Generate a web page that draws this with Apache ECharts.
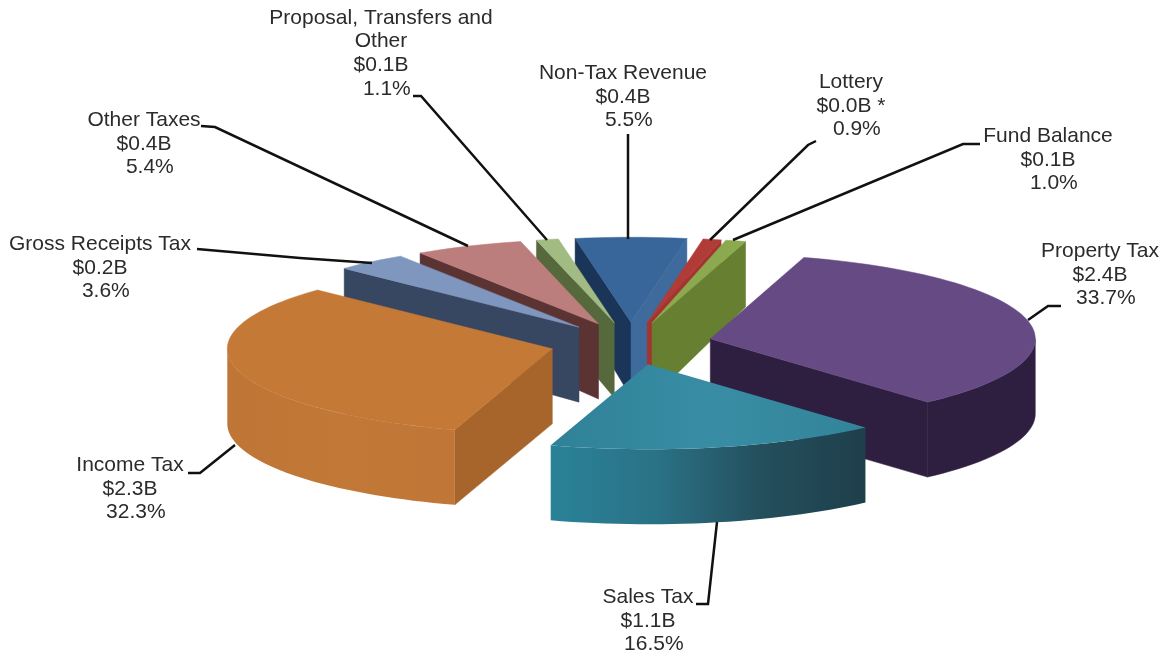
<!DOCTYPE html>
<html>
<head>
<meta charset="utf-8">
<title>Revenue</title>
<style>
  html, body { margin: 0; padding: 0; background: #fff; }
  #chart { width: 1167px; height: 656px; }
</style>
<script src="https://cdn.jsdelivr.net/npm/echarts@6/dist/echarts.min.js"></script>
</head>
<body>
<div id="chart"></div>
<script>
// clockwise from the top
const names = ['Non-Tax Revenue', 'Lottery', 'Fund Balance', 'Property Tax', 'Sales Tax', 'Income Tax',
  'Gross Receipts Tax', 'Other Taxes', 'Proposal, Transfers and\nOther'];
const shares = [5.5, 0.9, 1.0, 33.7, 16.5, 32.3, 3.6, 5.4, 1.1];
const amounts = ['$0.4B', '$0.0B *', '$0.1B', '$2.4B', '$1.1B', '$2.3B', '$0.2B', '$0.4B', '$0.1B'];

// [top, near wall, far wall]
const colors = [
  ['#39669A', '#3F6A9C', '#1A3557'],
  ['#B03B37', '#A5332F', '#A5332F'],
  ['#8BAA50', '#667F30', '#667F30'],
  ['#654A84', '#2E1F40', '#2E1F40'],
  ['#36899F', '#2A8199', '#2A8199'],
  ['#C47937', '#BE7534', '#A7652B'],
  ['#7F97BF', '#374761', '#374761'],
  ['#BC7D7D', '#5C3333', '#5C3333'],
  ['#A1BB82', '#56693D', '#56693D']
];

// label centre and the middle line's y
const labelPos = [[623, 97], [851, 106], [1048, 160], [1100, 275], [648, 621], [130, 489], [100, 268], [144, 144], [381, 53.5]];
const leaders = [
  [[628, 134], [628, 239]],
  [[816, 141], [808, 145], [710, 240]],
  [[980, 144], [963, 144], [733, 240]],
  [[1061, 306], [1048, 306], [1028, 320]],
  [[696, 604], [708, 604], [717, 522]],
  [[188, 473], [200, 473], [235, 445]],
  [[197, 249], [300, 258], [372, 263]],
  [[201, 126], [215, 127], [468, 246]],
  [[413, 96], [421, 96], [547, 240]]
];

const cx = 631, cy = 343.5, rx = 325, ry = 85, wallH = 75, explode = 0.25;
const RAD = Math.PI / 180;

const total = shares.reduce((a, b) => a + b, 0);
let angle = -shares[0] / total * 180;
const slices = shares.map(function (s) {
  const a0 = angle;
  const a1 = angle + s / total * 360;
  angle = a1;
  const mid = (a0 + a1) / 2 * RAD;
  return {
    a0: a0, a1: a1,
    ax: cx + explode * rx * Math.sin(mid),
    ay: cy - explode * ry * Math.cos(mid),
    depth: -Math.cos(mid)
  };
});

// far slices get painted first
const drawOrder = slices.map((s, i) => i).sort((p, q) => slices[p].depth - slices[q].depth);

function rimPoint(s, deg) {
  return [s.ax + rx * Math.sin(deg * RAD), s.ay - ry * Math.cos(deg * RAD)];
}
// the back of the pie looks a little shorter
function dropRim(p, deg) {
  const c = Math.cos(deg * RAD);
  return [p[0], p[1] + wallH - (c > 0 ? 10 * c : 0)];
}
function rimPoints(s, from, to) {
  const pts = [];
  const n = Math.max(2, Math.ceil((to - from) / 2));
  for (let k = 0; k <= n; k++) pts.push(rimPoint(s, from + (to - from) * k / n));
  return pts;
}
function poly(points, fill) {
  return {
    type: 'polygon',
    shape: { points: points },
    style: { fill: fill, stroke: typeof fill === 'string' ? fill : null, lineWidth: 0.5 }
  };
}
function radialWall(s, deg, fill) {
  const rim = rimPoint(s, deg);
  return poly([[s.ax, s.ay], rim, dropRim(rim, deg), [s.ax, s.ay + wallH]], fill);
}
function hGrad(stops) {
  return new echarts.graphic.LinearGradient(0, 0, 1, 0, stops.map((c, i) => ({ offset: i / (stops.length - 1), color: c })));
}

function renderSlice(params, api) {
  const idx = api.value(0);
  const s = slices[idx];
  const col = colors[idx];
  const kids = [];
  const norm = d => ((d % 360) + 360) % 360;

  // side walls that face the viewer
  if (Math.sin(s.a0 * RAD) < 0) kids.push(radialWall(s, s.a0, col[2]));
  if (Math.sin(s.a1 * RAD) > 0) kids.push(radialWall(s, s.a1, col[1]));

  // outer wall, only the front half of the rim
  const from = Math.max(norm(s.a0), 90);
  const to = Math.min(norm(s.a0) + (s.a1 - s.a0), 270);
  if (to > from) {
    const upper = rimPoints(s, from, to);
    const lower = upper.map(p => [p[0], p[1] + wallH]).reverse();
    let fill = col[1];
    if (names[idx] === 'Sales Tax') fill = hGrad(['#2A8298', '#2A7286', '#244F5D', '#1E3F4B']);
    if (names[idx] === 'Income Tax') fill = hGrad(['#BF7535', '#C27837', '#C07636']);
    kids.push(poly(upper.concat(lower), fill));
  }

  // top face
  let topFill = col[0];
  if (names[idx] === 'Sales Tax') topFill = hGrad(['#2F8197', '#388DA4', '#338499']);
  kids.push(poly([[s.ax, s.ay]].concat(rimPoints(s, s.a0, s.a1)), topFill));

  return { type: 'group', children: kids };
}

function renderLabel(params, api) {
  const idx = api.value(0);
  const text = names[idx] + '\n' + amounts[idx] + '\n  ' + shares[idx].toFixed(1) + '%';
  return {
    type: 'group',
    children: [
      {
        type: 'polyline',
        shape: { points: leaders[idx] },
        style: { stroke: '#111', lineWidth: 2.5, fill: null }
      },
      {
        type: 'text',
        x: labelPos[idx][0],
        y: labelPos[idx][1],
        style: {
          text: text,
          fill: '#2b2b2b',
          font: '21px "Liberation Sans", Arial, sans-serif',
          lineHeight: 23.7,
          align: 'center',
          verticalAlign: 'middle'
        }
      }
    ]
  };
}

const chart = echarts.init(document.getElementById('chart'));
chart.setOption({
  animation: false,
  backgroundColor: '#fff',
  series: [
    {
      type: 'custom',
      coordinateSystem: 'none',
      silent: true,
      clip: false,
      encode: { value: 1 },
      data: drawOrder.map(i => [i, shares[i]]),
      renderItem: renderSlice
    },
    {
      type: 'custom',
      coordinateSystem: 'none',
      silent: true,
      z: 5,
      data: names.map((n, i) => [i]),
      renderItem: renderLabel
    }
  ]
});
</script>
</body>
</html>
